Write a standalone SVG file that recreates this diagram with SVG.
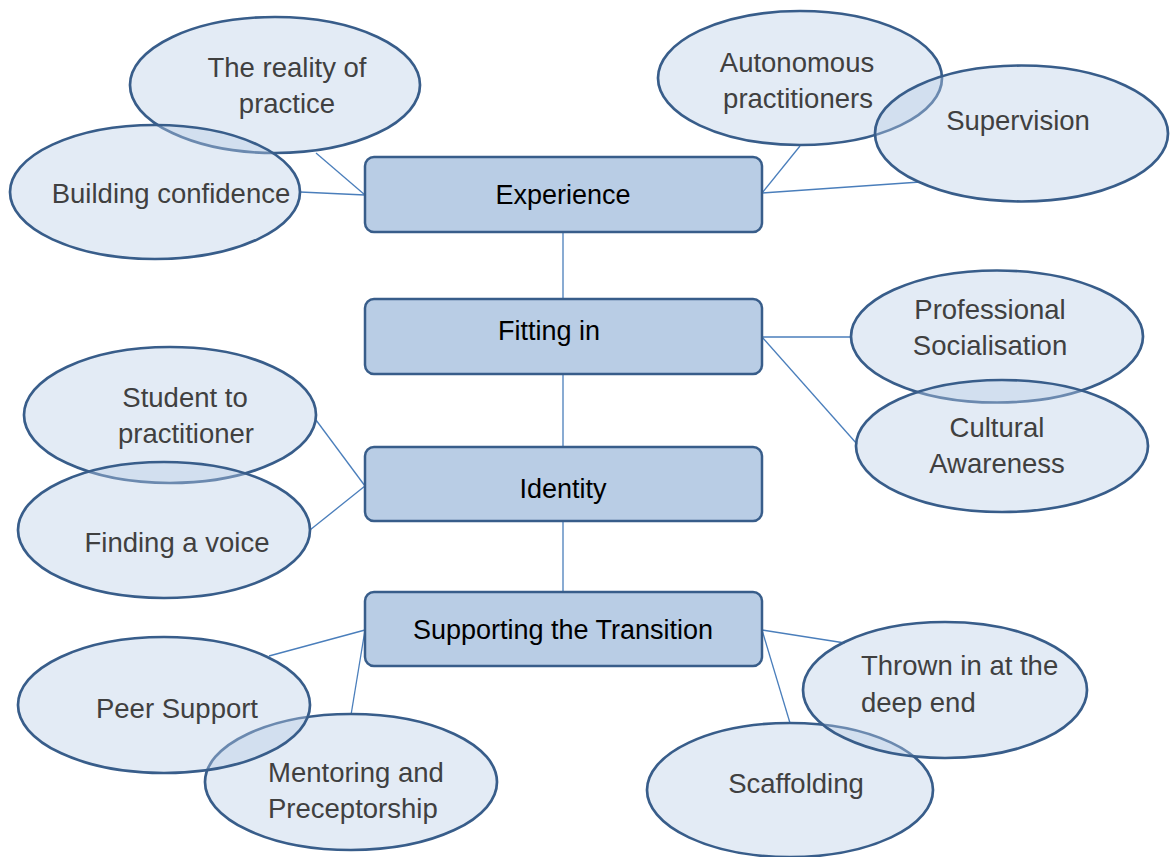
<svg xmlns="http://www.w3.org/2000/svg" width="1174" height="857" viewBox="0 0 1174 857">
<style>
.bg{fill:#ffffff}
.box{fill:#b9cde5;stroke:#385d8a;stroke-width:2.5}
.ell{fill:#b9cde5;fill-opacity:0.4;stroke:#385d8a;stroke-width:2.7}
.bt{font-family:"Liberation Sans",Arial,sans-serif;font-size:27px;fill:#000;text-anchor:middle}
.et{font-family:"Liberation Sans",Arial,sans-serif;font-size:27.5px;fill:#404040;text-anchor:middle}
.el{text-anchor:start}
.conn line{stroke:#4a7ebb;stroke-width:1.3}
</style>
<rect class="bg" x="0" y="0" width="1174" height="857"/>
<g id="connectors" class="conn">
<line x1="563" y1="232" x2="563" y2="299"/>
<line x1="563" y1="374" x2="563" y2="447"/>
<line x1="563" y1="521" x2="563" y2="592"/>
<line x1="365" y1="195" x2="300" y2="192"/>
<line x1="365" y1="195" x2="316" y2="153"/>
<line x1="762" y1="193" x2="800" y2="146"/>
<line x1="762" y1="193" x2="920" y2="182"/>
<line x1="762" y1="337" x2="852" y2="337"/>
<line x1="762" y1="337" x2="857" y2="444"/>
<line x1="365" y1="486" x2="316" y2="420"/>
<line x1="365" y1="486" x2="310" y2="530"/>
<line x1="365" y1="630" x2="269" y2="656"/>
<line x1="365" y1="630" x2="351" y2="715"/>
<line x1="762" y1="630" x2="845" y2="643"/>
<line x1="762" y1="630" x2="790" y2="723"/>
</g>
<g id="experience"><rect class="box" x="365" y="157" width="397" height="75" rx="9"/><text class="bt" x="563" y="204">Experience</text></g>
<g id="fitting-in"><rect class="box" x="365" y="299" width="397" height="75" rx="9"/><text class="bt" x="549" y="340">Fitting in</text></g>
<g id="identity"><rect class="box" x="365" y="447" width="397" height="74" rx="9"/><text class="bt" x="563" y="498">Identity</text></g>
<g id="supporting"><rect class="box" x="365" y="592" width="397" height="74" rx="9"/><text class="bt" x="563" y="639">Supporting the Transition</text></g>
<g id="reality"><ellipse class="ell" cx="275" cy="85" rx="145" ry="68"/><text class="et" x="287" y="77">The reality of</text><text class="et" x="287" y="113">practice</text></g>
<g id="confidence"><ellipse class="ell" cx="155" cy="192" rx="145" ry="67"/><text class="et" x="171" y="203">Building confidence</text></g>
<g id="autonomous"><ellipse class="ell" cx="800" cy="78" rx="142" ry="67"/><text class="et" x="797" y="72">Autonomous</text><text class="et" x="798" y="108">practitioners</text></g>
<g id="supervision"><ellipse class="ell" cx="1021.5" cy="133.5" rx="146.5" ry="68"/><text class="et" x="1018" y="130">Supervision</text></g>
<g id="professional"><ellipse class="ell" cx="997" cy="336.5" rx="146" ry="66"/><text class="et" x="990" y="319">Professional</text><text class="et" x="990" y="355">Socialisation</text></g>
<g id="cultural"><ellipse class="ell" cx="1002" cy="446" rx="146" ry="66"/><text class="et" x="997" y="437">Cultural</text><text class="et" x="997" y="473">Awareness</text></g>
<g id="student"><ellipse class="ell" cx="170" cy="415" rx="146" ry="68"/><text class="et" x="185" y="407">Student to</text><text class="et" x="186" y="443">practitioner</text></g>
<g id="voice"><ellipse class="ell" cx="164" cy="530" rx="146" ry="68"/><text class="et" x="177" y="552">Finding a voice</text></g>
<g id="mentoring"><ellipse class="ell" cx="351" cy="782" rx="146" ry="68"/><text class="et el" x="268" y="782">Mentoring and</text><text class="et el" x="268" y="818">Preceptorship</text></g>
<g id="peer"><ellipse class="ell" cx="164" cy="705" rx="146" ry="68"/><text class="et" x="177" y="718">Peer Support</text></g>
<g id="scaffolding"><ellipse class="ell" cx="790" cy="790" rx="143" ry="67"/><text class="et" x="796" y="793">Scaffolding</text></g>
<g id="thrown"><ellipse class="ell" cx="945" cy="690" rx="142" ry="68"/><text class="et el" x="861" y="675">Thrown in at the</text><text class="et el" x="861" y="712">deep end</text></g>
</svg>
